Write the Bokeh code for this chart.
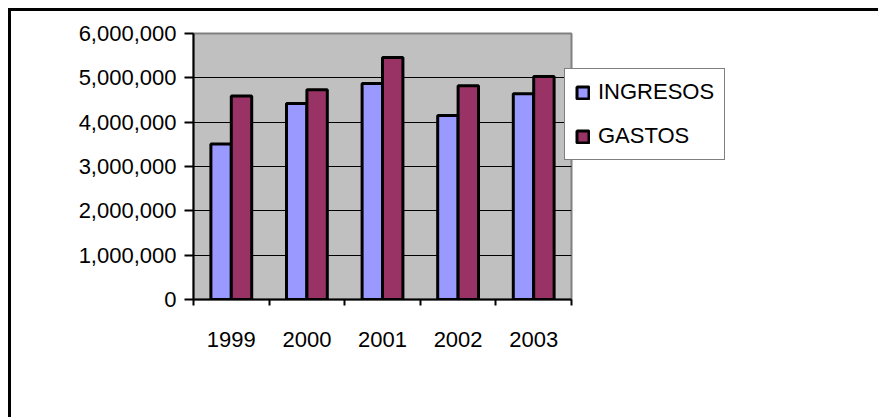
from bokeh.plotting import figure
from bokeh.models import Range1d, FixedTicker, NumeralTickFormatter, ColumnDataSource, Legend, LegendItem, Spacer
from bokeh.layouts import row, column
from bokeh.transform import dodge
from bokeh.embed import file_html
from bokeh.resources import INLINE

years = ["1999", "2000", "2001", "2002", "2003"]
ingresos = [3510000, 4420000, 4870000, 4150000, 4640000]
gastos = [4590000, 4730000, 5460000, 4820000, 5030000]
y_ticks = [0, 1000000, 2000000, 3000000, 4000000, 5000000, 6000000]

pos = [i + 1 for i in range(len(years))]
bounds = [i + 0.5 for i in range(len(years) + 1)]

src = ColumnDataSource(dict(x=pos, ingresos=ingresos, gastos=gastos))

FONT = "Liberation Sans"

p = figure(frame_width=375, frame_height=263,
           x_range=Range1d(bounds[0], bounds[-1]), y_range=Range1d(y_ticks[0], y_ticks[-1]),
           output_backend="svg", toolbar_location=None, title=None,
           min_border_left=182, min_border_top=22, min_border_right=310, min_border_bottom=121)
p.styles = {"border-left": "3px solid black", "border-top": "3px solid black"}

p.background_fill_color = "#C0C0C0"
p.border_fill_color = "white"
p.outline_line_color = "#808080"
p.outline_line_width = 2

r1 = p.vbar(x=dodge('x', -0.135), top='ingresos', width=0.27, source=src,
            fill_color="#9999FF", line_color="black", line_width=3)
r2 = p.vbar(x=dodge('x', 0.135), top='gastos', width=0.27, source=src,
            fill_color="#993366", line_color="black", line_width=3)

# x axis
xa = p.xaxis[0]
xa.ticker = FixedTicker(ticks=pos, minor_ticks=bounds)
xa.major_label_overrides = {float(k): v for k, v in zip(pos, years)}
xa.major_tick_line_color = None
xa.major_tick_out = 0
xa.major_tick_in = 0
xa.minor_tick_out = 6
xa.minor_tick_in = 0
xa.minor_tick_line_color = "black"
xa.minor_tick_line_width = 2
xa.axis_line_color = "black"
xa.axis_line_width = 2
xa.major_label_standoff = 26
xa.major_label_text_font = FONT
xa.major_label_text_font_size = "22px"
xa.major_label_text_color = "black"

# y axis
ya = p.yaxis[0]
ya.ticker = FixedTicker(ticks=y_ticks, minor_ticks=[])
ya.formatter = NumeralTickFormatter(format="0,0")
ya.major_tick_out = 9
ya.major_tick_in = 0
ya.major_tick_line_color = "black"
ya.major_tick_line_width = 2
ya.minor_tick_line_color = None
ya.axis_line_color = "black"
ya.axis_line_width = 2
ya.major_label_standoff = 8
ya.major_label_text_font = FONT
ya.major_label_text_font_size = "22px"
ya.major_label_text_color = "black"

p.xgrid.visible = False
p.ygrid.ticker = FixedTicker(ticks=y_ticks[1:-1])
p.ygrid.grid_line_color = "black"
p.ygrid.grid_line_width = 1

legend = Legend(items=[LegendItem(label="INGRESOS", renderers=[r1]),
                       LegendItem(label="GASTOS", renderers=[r2])],
                location=(-7, 139))
legend.label_text_font = FONT
legend.label_text_font_size = "22px"
legend.label_text_color = "black"
legend.padding = 10
legend.spacing = 18
legend.glyph_width = 15
legend.glyph_height = 15
legend.label_standoff = 8
legend.label_height = 26
legend.border_line_color = "black"
legend.border_line_width = 1
legend.background_fill_color = "white"
legend.background_fill_alpha = 1.0
legend.margin = 0
p.add_layout(legend, "right")

layout = row(Spacer(width=8), column(Spacer(height=8), p))

open("out.html", "w").write(file_html(layout, INLINE))
